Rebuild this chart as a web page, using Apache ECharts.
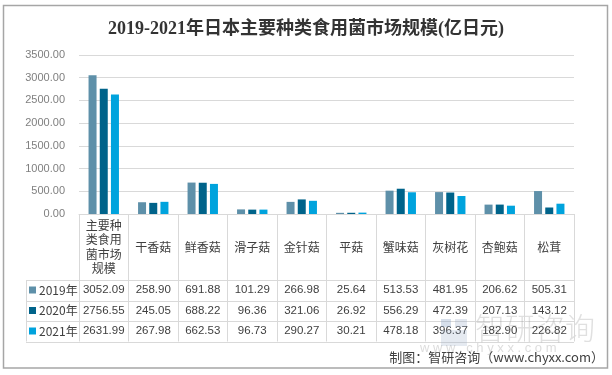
<!DOCTYPE html>
<html>
<head>
<meta charset="utf-8">
<script src="https://cdn.jsdelivr.net/npm/echarts@6/dist/echarts.min.js"></script>
<style>
  html, body { margin: 0; padding: 0; background: #fff; }
  #main { width: 612px; height: 375px; }
</style>
</head>
<body>
<div id="main"></div>
<script>
// 数据
const categories = ['主要种类食用菌市场规模', '干香菇', '鲜香菇', '滑子菇', '金针菇', '平菇', '蟹味菇', '灰树花', '杏鲍菇', '松茸']
const years = ['2019年', '2020年', '2021年']
const v2019 = [3052.09, 258.90, 691.88, 101.29, 266.98, 25.64, 513.53, 481.95, 206.62, 505.31]
const v2020 = [2756.55, 245.05, 688.22, 96.36, 321.06, 26.92, 556.29, 472.39, 207.13, 143.12]
const v2021 = [2631.99, 267.98, 662.53, 96.73, 290.27, 30.21, 478.18, 396.37, 182.90, 226.82]
const yMin = 0
const yMax = 3500
const yStep = 500

const colors = ['#5e90a9', '#00638a', '#00a3dd']
const gridColor = '#d9d9d9'
const textColor = '#404040'
const cjk = "'Noto Sans CJK SC', 'Liberation Sans', sans-serif"
const numFont = "'Liberation Sans', 'Noto Sans CJK SC', sans-serif"

const headerH = 66 // 类别行高
const rowH = 20.5 // 数值行高
const tableLeft = 26

const chart = echarts.init(document.getElementById('main'))
const allValues = [v2019, v2020, v2021]

const option = {
  animation: false,
  color: colors,
  title: {
    text: '2019-2021年日本主要种类食用菌市场规模(亿日元)',
    left: 'center',
    top: 15,
    textStyle: {
      fontFamily: "'Liberation Serif', 'Noto Sans CJK SC', serif",
      fontSize: 18,
      fontWeight: 'bold',
      color: '#333333',
    },
  },
  grid: { left: 79, right: 38, top: 55, bottom: 161 },
  xAxis: {
    type: 'category',
    data: categories,
    boundaryGap: true,
    axisLine: { lineStyle: { color: gridColor } },
    axisTick: { show: true, length: headerH + rowH * 3, lineStyle: { color: gridColor } },
    axisLabel: {
      interval: 0,
      margin: headerH / 2,
      verticalAlign: 'middle',
      width: 40,
      overflow: 'break',
      lineHeight: 14.5,
      fontSize: 12,
      fontFamily: cjk,
      color: textColor,
    },
  },
  yAxis: {
    type: 'value',
    min: yMin,
    max: yMax,
    interval: yStep,
    axisLine: { show: false },
    axisTick: { show: false },
    splitLine: { lineStyle: { color: gridColor } },
    axisLabel: {
      margin: 14,
      fontSize: 11,
      fontFamily: numFont,
      color: '#7f7f7f',
      formatter: v => v.toFixed(2),
    },
  },
  legend: {
    orient: 'vertical',
    left: 29,
    top: 283,
    itemWidth: 7,
    itemHeight: 7,
    itemGap: 6.5,
    icon: 'rect',
    padding: 0,
    data: years,
    textStyle: { fontSize: 12, lineHeight: 14, fontFamily: cjk, color: textColor, padding: [0, 0, 0, -2] },
  },
  series: years.map((y, i) => ({
    name: y,
    type: 'bar',
    barWidth: 8,
    barGap: '40%',
    data: allValues[i],
  })),
}
chart.setOption(option)

// 数据表
function drawTable() {
  const axisY = chart.convertToPixel({ yAxisIndex: 0 }, 0)
  const step = chart.convertToPixel({ xAxisIndex: 0 }, 1) - chart.convertToPixel({ xAxisIndex: 0 }, 0)
  const xRight = chart.convertToPixel({ xAxisIndex: 0 }, categories.length - 1) + step / 2
  const top = axisY + headerH
  const g = []
  for (let r = 0; r <= 3; r++) {
    const y = Math.round(top + r * rowH) + 0.5
    g.push({ type: 'line', shape: { x1: tableLeft, y1: y, x2: xRight, y2: y }, style: { stroke: gridColor, lineWidth: 1 }, silent: true })
  }
  g.push({ type: 'line', shape: { x1: tableLeft + 0.5, y1: top, x2: tableLeft + 0.5, y2: top + rowH * 3 }, style: { stroke: gridColor, lineWidth: 1 }, silent: true })
  allValues.forEach((vals, r) => {
    const cy = top + r * rowH + rowH / 2
    vals.forEach((v, i) => {
      g.push({
        type: 'text',
        x: chart.convertToPixel({ xAxisIndex: 0 }, i),
        y: cy,
        style: { text: v.toFixed(2), fontSize: 11.5, fontFamily: numFont, fill: textColor, align: 'center', verticalAlign: 'middle' },
        silent: true,
      })
    })
  })
  // 水印
  g.push({ type: 'rect', shape: { x: 441, y: 319, width: 10, height: 8 }, style: { fill: 'rgba(120,150,190,0.3)' }, silent: true })
  g.push({ type: 'rect', shape: { x: 441, y: 330, width: 26, height: 16 }, style: { fill: 'rgba(150,170,200,0.25)' }, silent: true })
  g.push({ type: 'rect', shape: { x: 455, y: 319, width: 12, height: 8 }, style: { fill: 'rgba(140,160,190,0.25)' }, silent: true })
  g.push({
    type: 'text', x: 475, y: 328,
    style: { text: '智研咨询', fontSize: 30, fontFamily: cjk, fontWeight: 300, fill: 'rgba(130,130,130,0.25)', verticalAlign: 'middle' },
    silent: true,
  })
  g.push({
    type: 'text', x: 420, y: 348,
    style: { text: 'w w w . c h y x x . c o m', fontSize: 13, fontFamily: numFont, fill: 'rgba(140,140,140,0.3)', verticalAlign: 'middle' },
    silent: true,
  })
  // 来源
  g.push({
    type: 'text', x: 604, y: 357,
    style: { text: '制图：智研咨询（www.chyxx.com）', fontSize: 13, fontFamily: cjk, fill: textColor, align: 'right', verticalAlign: 'middle' },
    silent: true,
  })
  // 外框
  g.push({ type: 'rect', shape: { x: 3.5, y: 5.5, width: 604, height: 362.5 }, style: { fill: 'none', stroke: '#a6a6a6', lineWidth: 1.5 }, silent: true })
  chart.setOption({ graphic: g })
}
drawTable()
</script>
</body>
</html>
